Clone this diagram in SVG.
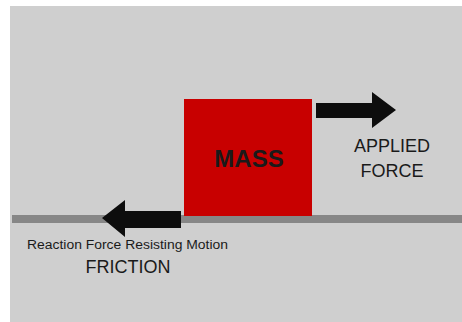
<svg xmlns="http://www.w3.org/2000/svg" width="462" height="322" viewBox="0 0 462 322">
<style>
.t{font-family:"Liberation Sans",Arial,sans-serif;fill:#1a1a1a;text-anchor:middle}
.arrow{fill:#0d0d0d}
</style>
<rect x="0" y="0" width="462" height="322" fill="#ffffff"/>
<rect x="10" y="6" width="452" height="316" fill="#cfcfcf"/>
<rect x="12" y="215" width="450" height="8" fill="#878787"/>
<g id="mass">
<rect x="184" y="99" width="128" height="117" fill="#c80000"/>
<text class="t" x="249" y="167" font-size="24" font-weight="bold">MASS</text>
</g>
<g id="connectors">
<path class="arrow" d="M316,103 H372 V92 L396,110 L372,128 V118 H316 Z"/>
<path class="arrow" d="M181,211 H125 V200 L102,218 L125,237 V228 H181 Z"/>
</g>
<g id="applied">
<text class="t" x="392" y="152" font-size="18">APPLIED</text>
<text class="t" x="392" y="177" font-size="18">FORCE</text>
</g>
<g id="friction">
<text class="t" x="127.5" y="249" font-size="12.5" textLength="201" lengthAdjust="spacingAndGlyphs">Reaction Force Resisting Motion</text>
<text class="t" x="128" y="273" font-size="18">FRICTION</text>
</g>
</svg>
